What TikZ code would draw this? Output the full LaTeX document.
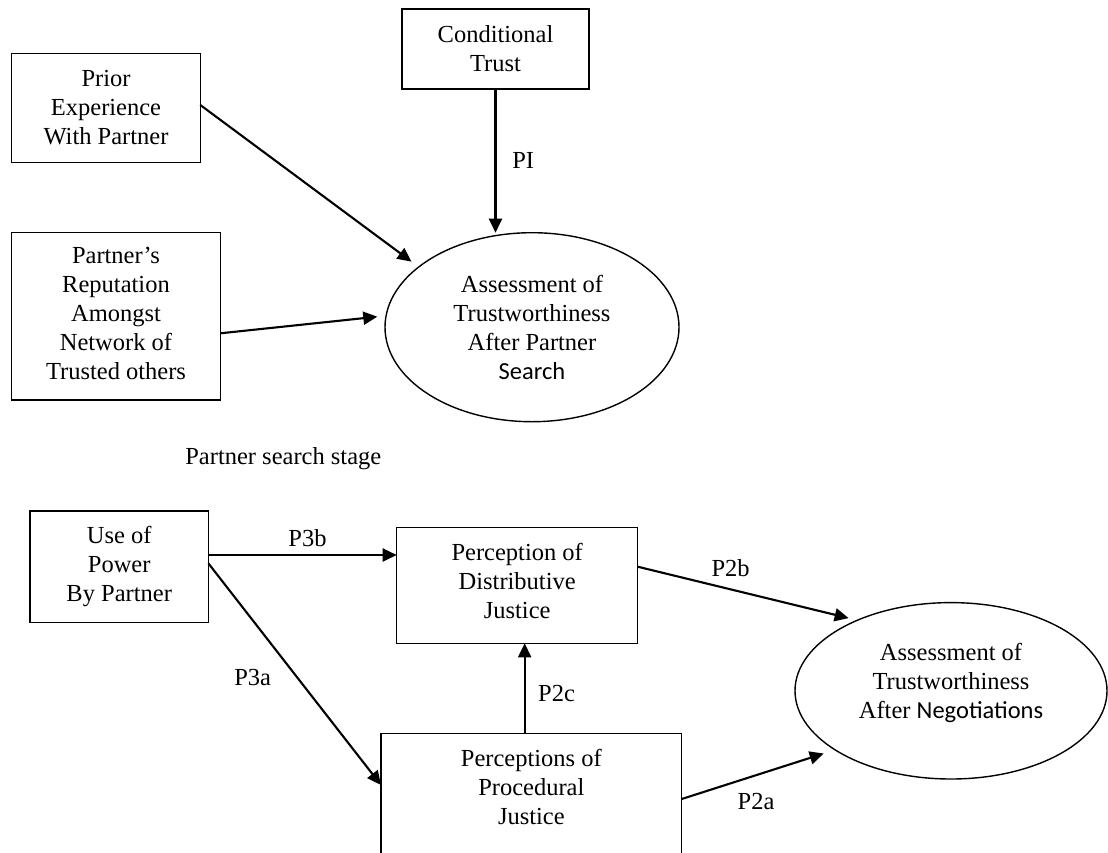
\documentclass[tikz,border=0pt]{standalone}
\usepackage{fontspec}
\setmainfont{Liberation Serif}
\newfontfamily\calib{Carlito}
\usetikzlibrary{arrows.meta,shapes.geometric}
\begin{document}
\begin{tikzpicture}[x=1pt,y=-1pt,
  every node/.style={font=\fontsize{24.5pt}{29pt}\selectfont, inner sep=0pt, outer sep=0pt},
  box/.style={draw, rectangle, line width=1.4pt, align=center},
  oval/.style={draw, ellipse, line width=1.4pt, align=center},
  arr/.style={line width=2.1pt, -{Triangle[length=14pt,width=13pt]}}]
\useasboundingbox[fill=white] (0,0) rectangle (1108,852);
\clip (0,0) rectangle (1108,852);

% nodes
\node[box, minimum width=187pt, minimum height=80pt] (cond) at (495.5,49) {Conditional\\Trust};
\node[box, minimum width=188.6pt, minimum height=109pt] (prior) at (106,107.8) {Prior\\Experience\\With Partner};
\node[box, minimum width=208.6pt, minimum height=167.7pt, text depth=5pt] (rep) at (116,316.2) {Partner’s\\Reputation\\Amongst\\Network of\\Trusted others};
\node[oval, minimum width=294pt, minimum height=189pt] (ell1) at (532,327.2) {Assessment of\\Trustworthiness\\After Partner\\{\calib Search}};
\node (stage) at (283.3,458.3) {Partner search stage};
\node[box, minimum width=178.3pt, minimum height=111.3pt] (power) at (119.2,566.7) {Use of\\Power\\By Partner};
\node[box, minimum width=241pt, minimum height=116pt, text depth=9pt] (dist) at (517.2,585.3) {Perception of\\Distributive\\Justice};
\node[box, minimum width=300.7pt, minimum height=136.4pt, text depth=30pt] (proc) at (531.35,801.5) {Perceptions of\\Procedural\\Justice};
\node[oval, minimum width=312pt, minimum height=176.4pt, text depth=19pt] (ell2) at (951,690.8) {Assessment of\\Trustworthiness\\After {\calib Negotiations}};

% connectors
\draw[arr] (cond.south) -- (cond.south |- ell1.north);
\draw[arr, shorten >=9pt] ([yshift=2.8pt]prior.east) -- (ell1.152.4);
\draw[arr] ([yshift=-17.1pt]rep.east) -- ([xshift=-7.7pt,yshift=10.5pt]ell1.west);
\coordinate (p3bs) at ([yshift=11.7pt]power.east);
\draw[arr] (p3bs) -- (p3bs -| dist.west);
\draw[arr] ([yshift=3.4pt]power.east) -- ([yshift=16.5pt]proc.west);
\coordinate (p2cs) at ([xshift=-6.7pt]proc.north);
\draw[arr] (p2cs) -- (p2cs |- dist.south);
\draw[arr, shorten >=9pt] ([yshift=18.6pt]dist.east) -- (ell2.143.1);
\draw[arr, shorten >=12pt] ([yshift=2.5pt]proc.east) -- (ell2.207.7);

% labels
\node (pi) at (523.2,160) {PI};
\node (l3b) at (307.5,538.3) {P3b};
\node (l3a) at (252.7,677.7) {P3a};
\node (l2c) at (556.6,693.3) {P2c};
\node (l2b) at (730.6,568.3) {P2b};
\node (l2a) at (756,801.7) {P2a};
\end{tikzpicture}
\end{document}
